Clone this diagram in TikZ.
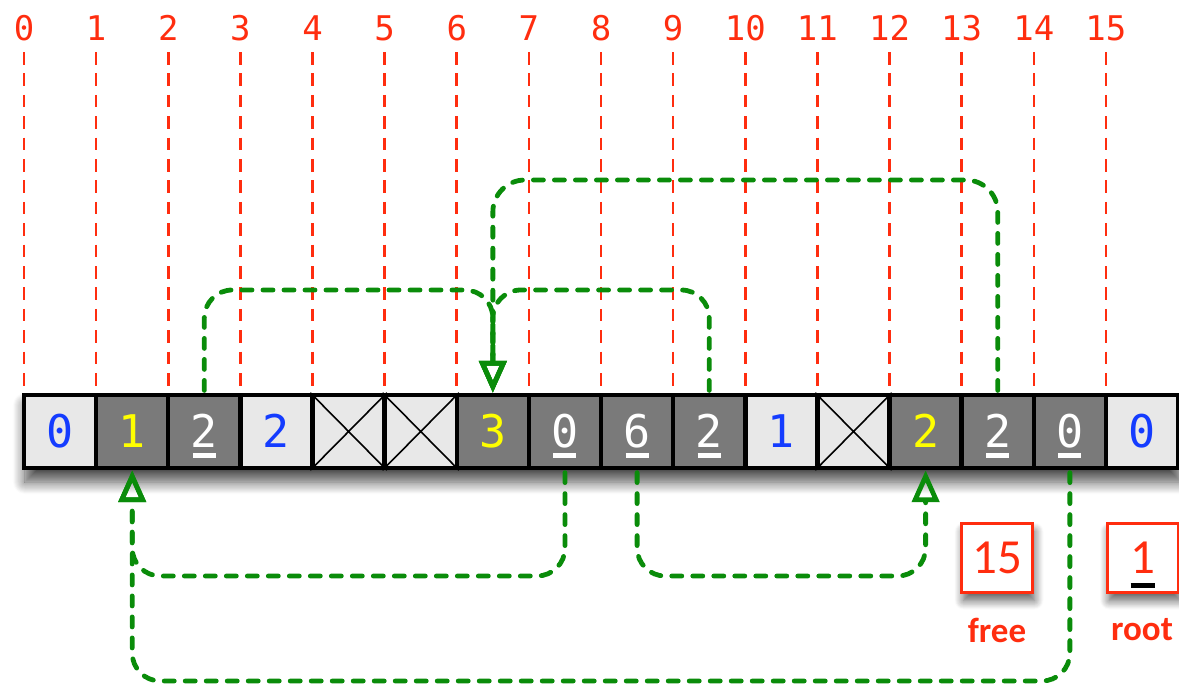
\documentclass[tikz,border=0pt]{standalone}
\usepackage{fontspec}
\setmainfont{Carlito}
\setmonofont{DejaVu Sans Mono}
\usetikzlibrary{arrows.meta,shadows.blur}
\definecolor{lred}{RGB}{255,45,15}
\definecolor{lgreen}{RGB}{10,140,10}
\definecolor{lblue}{RGB}{20,60,255}
\definecolor{lyellow}{RGB}{255,255,0}
\definecolor{dcell}{RGB}{122,122,122}
\definecolor{lcell}{RGB}{232,232,232}
% #1 colour, #2 width, #3 raise, #4 thickness, #5 text
\newcommand\ulbar[5]{\setbox0\hbox{#5}\rlap{\hbox to\wd0{\hss\textcolor{#1}{\rule[#3]{#2}{#4}}\hss}}\box0}
\newcommand\celu[1]{\ulbar{white}{11.5pt}{-5.25pt}{2.3pt}{#1}}
\tikzset{
  cell/.style={draw=black, line width=2.2pt, minimum width=36.07pt, minimum height=36.5pt,
    inner sep=0pt, text height=16pt, text depth=0pt, font=\ttfamily\fontsize{22.5}{22.5}\selectfont},
  lc/.style={cell, fill=lcell},
  dc/.style={cell, fill=dcell},
  kb/.style={lc, text=lblue},
  ky/.style={dc, text=lyellow},
  ku/.style={dc, text=white},
  kx/.style={lc},
  xline/.style={draw=black, line width=0.8pt},
  idx/.style={text=lred, inner sep=0pt, font=\ttfamily\fontsize{17}{17}\selectfont},
  rdash/.style={draw=lred, line width=1.3pt, dash pattern=on 6.3pt off 4.4pt},
  rowbox/.style={fill=white, minimum width=578pt, minimum height=38.5pt, inner sep=0pt,
    blur shadow={shadow xshift=1pt, shadow yshift=-6pt, shadow blur radius=6pt, shadow blur steps=12, shadow opacity=70}},
  garrow/.style={draw=lgreen, line width=2.4pt, dash pattern=on 5pt off 5.5pt, line cap=round,
    rounded corners=14pt, shorten <=1.2pt, -{Triangle[open, length=16pt, width=13.5pt]}},
  regbox/.style={draw=lred, line width=1.5pt, fill=white, minimum width=35.5pt, minimum height=34.5pt,
    inner sep=0pt, text=lred, font=\fontsize{24.5}{24.5}\selectfont, text height=15.5pt, text depth=0pt,
    blur shadow={shadow xshift=1pt, shadow yshift=-4pt, shadow blur radius=4.5pt, shadow blur steps=10, shadow opacity=65}},
  reglabel/.style={text=lred, inner sep=0pt, font=\bfseries\fontsize{17.5}{17.5}\selectfont},
}
\begin{document}
\begin{tikzpicture}[x=0.5pt, y=-0.5pt]
\useasboundingbox (0,0) rectangle (1179,685);
\coordinate (t1) at (0,290);
\coordinate (t2) at (0,180);
\coordinate (b1) at (0,576);
\coordinate (b2) at (0,681);

% row with shadow, index labels and red lines
\node[rowbox] (row) at (601,431.5) {};
\foreach \i in {0,...,15} {
  \node[idx] (l\i) at ({24+72.13*\i},28) {\i};
  \draw[rdash] (l\i.center) ++(0,24) -- (l\i.center |- row.north);
}

% cells
\node[kb] (c0)  at (60.07,431.5)   {0};
\node[ky] (c1)  at (132.20,431.5)  {1};
\node[ku] (c2)  at (204.33,431.5)  {\celu{2}};
\node[kb] (c3)  at (276.46,431.5)  {2};
\node[kx] (c4)  at (348.59,431.5)  {};
\node[kx] (c5)  at (420.72,431.5)  {};
\node[ky] (c6)  at (492.85,431.5)  {3};
\node[ku] (c7)  at (564.98,431.5)  {\celu{0}};
\node[ku] (c8)  at (637.11,431.5)  {\celu{6}};
\node[ku] (c9)  at (709.24,431.5)  {\celu{2}};
\node[kb] (c10) at (781.37,431.5)  {1};
\node[kx] (c11) at (853.50,431.5)  {};
\node[ky] (c12) at (925.63,431.5)  {2};
\node[ku] (c13) at (997.76,431.5)  {\celu{2}};
\node[ku] (c14) at (1069.89,431.5) {\celu{0}};
\node[kb] (c15) at (1142.02,431.5) {0};
\foreach \c in {c4,c5,c11} {
  \draw[xline] (\c.north west) -- (\c.south east) (\c.north east) -- (\c.south west);
}

% green pointer arrows
\draw[garrow] (c2.north) -- (c2.north |- t1) -- (c6.north |- t1) -- (c6.north);
\draw[garrow] (c9.north) -- (c9.north |- t1) -- (c6.north |- t1) -- (c6.north);
\draw[garrow, rounded corners=16pt] (c13.north) -- (c13.north |- t2) -- (c6.north |- t2) -- (c6.north);
\draw[garrow] (c7.south) -- (c7.south |- b1) -- (c1.south |- b1) -- (c1.south);
\draw[garrow] (c14.south) -- (c14.south |- b2) -- (c1.south |- b2) -- (c1.south);
\draw[garrow] (c8.south) -- (c8.south |- b1) -- (c12.south |- b1) -- (c12.south);

% registers
\node[regbox] (free) at (997,558) {15};
\node[regbox] (root) at (1142.5,558) {\ulbar{black}{12pt}{-7pt}{2.5pt}{1}};
\node[reglabel] (freelbl) at (997,630) {free};
\node[reglabel] (rootlbl) at (1142,630) {root};
\end{tikzpicture}
\end{document}
